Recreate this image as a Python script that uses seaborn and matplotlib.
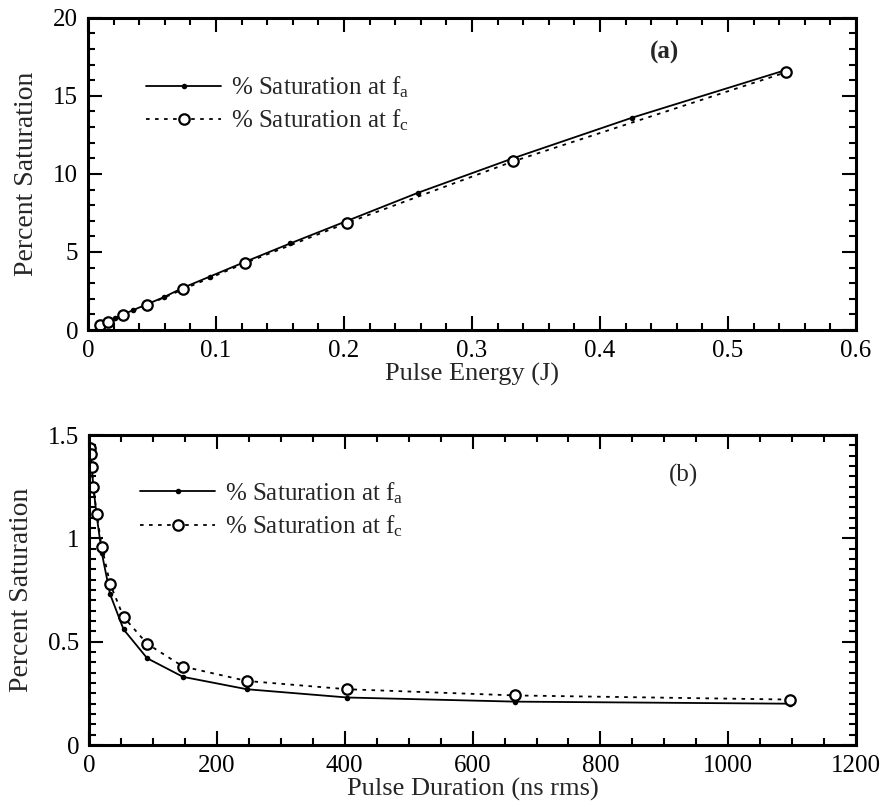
import matplotlib
matplotlib.use("Agg")
import matplotlib.pyplot as plt
from matplotlib.ticker import MultipleLocator, FuncFormatter
import seaborn as sns

# panel (a): saturation vs pulse energy
energy_a = [0.0094, 0.0125, 0.0156, 0.021, 0.027, 0.035, 0.046, 0.059, 0.074,
            0.095, 0.123, 0.158, 0.202, 0.258, 0.332, 0.425, 0.545]
sat_fa_a = [0.33, 0.45, 0.56, 0.76, 0.98, 1.27, 1.65, 2.10, 2.70,
            3.42, 4.38, 5.55, 6.98, 8.80, 11.0, 13.6, 16.65]
energy_c = [0.0094, 0.0156, 0.027, 0.046, 0.074, 0.123, 0.202, 0.332, 0.545]
sat_fc_a = [0.30, 0.50, 0.95, 1.60, 2.60, 4.30, 6.85, 10.8, 16.5]

# panel (b): saturation vs pulse duration
duration = [1.6, 2.6, 4.2, 6.8, 12, 20, 33, 54, 91, 147, 247, 404, 667, 1097]
sat_fa_b = [1.45, 1.41, 1.35, 1.25, 1.11, 0.93, 0.73, 0.56, 0.42, 0.33, 0.27, 0.23, 0.21, 0.20]
sat_fc_b = [1.44, 1.41, 1.345, 1.25, 1.12, 0.96, 0.78, 0.62, 0.49, 0.38, 0.31, 0.27, 0.24, 0.22]

label_fa = r"% Saturation at $\mathregular{f_a}$"
label_fc = r"% Saturation at $\mathregular{f_c}$"

sns.set_style("ticks")
plt.rcParams['font.family'] = ['Liberation Serif', 'DejaVu Serif']
plt.rcParams['mathtext.fontset'] = 'custom'
plt.rcParams['mathtext.rm'] = 'Liberation Serif'

fig = plt.figure(figsize=(8.9, 8.07), dpi=100)
ax1 = fig.add_axes([0.0989, 0.591, 0.863, 0.387])
ax2 = fig.add_axes([0.1, 0.0768, 0.862, 0.384])

dotted = (0, (2, 3))


def draw(ax, x1, y1, x2, y2):
    sns.lineplot(x=x1, y=y1, ax=ax, color='black', lw=1.3, marker='o',
                 markersize=4, markeredgewidth=0, label=label_fa, sort=False)
    sns.lineplot(x=x2, y=y2, ax=ax, color='black', lw=1.3, linestyle=dotted,
                 marker='o', markersize=7.5, markerfacecolor='white',
                 markeredgecolor='black', markeredgewidth=1.6,
                 label=label_fc, sort=False)


draw(ax1, energy_a, sat_fa_a, energy_c, sat_fc_a)
draw(ax2, duration, sat_fa_b, duration, sat_fc_b)

fmt = FuncFormatter(lambda v, p: "%g" % v)

for ax, xl, xmaj, xmin, yl, ymaj, ymin, xlab, leg_x, leg_y in [
        (ax1, (0, 0.6), 0.1, 0.02, (0, 20), 5, 1, "Pulse Energy (J)", 0.063, 0.85),
        (ax2, (0, 1200), 200, 50, (0, 1.5), 0.5, 0.05, "Pulse Duration (ns rms)", 0.054, 0.887)]:
    ax.set_xlim(*xl)
    ax.set_ylim(*yl)
    ax.xaxis.set_major_locator(MultipleLocator(xmaj))
    ax.xaxis.set_minor_locator(MultipleLocator(xmin))
    ax.yaxis.set_major_locator(MultipleLocator(ymaj))
    ax.yaxis.set_minor_locator(MultipleLocator(ymin))
    ax.xaxis.set_major_formatter(fmt)
    ax.yaxis.set_major_formatter(fmt)
    ax.tick_params(which='both', direction='in', top=True, right=True,
                   width=1.5, labelsize=18, colors='black', pad=7)
    ax.tick_params(which='major', length=10)
    ax.tick_params(which='minor', length=5)
    for s in ax.spines.values():
        s.set_visible(True)
        s.set_linewidth(2.2)
        s.set_color('black')
    ax.set_xlabel(xlab, fontsize=19, labelpad=1)
    ax.set_ylabel("Percent Saturation", fontsize=20, labelpad=10)
    ax.legend(loc='upper left', bbox_to_anchor=(leg_x, leg_y), frameon=False,
              fontsize=18, handlelength=3.0, handletextpad=0.4,
              labelspacing=0.3, borderaxespad=0)

ax1.text(0.45, 17.75, "(a)", fontsize=18, fontweight='bold', ha='center', va='center')
ax2.text(930, 1.305, "(b)", fontsize=18, ha='center', va='center')

fig.savefig("out.png", dpi=100)
